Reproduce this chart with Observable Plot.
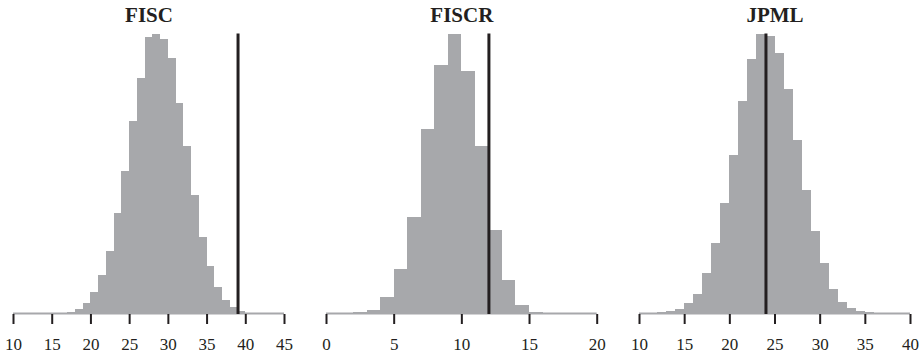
<!DOCTYPE html>
<html><head><meta charset="utf-8">
<script src="https://cdn.jsdelivr.net/npm/d3@7"></script>
<script src="https://cdn.jsdelivr.net/npm/@observablehq/plot@0.6"></script>
<style>
body{margin:0;background:#fff;}
#wrap{display:flex;width:924px;height:357px;}
#wrap svg{display:block;}
</style></head><body><div id="wrap"></div>
<script>
const titles = ["FISC", "FISCR", "JPML"];
// bin starts (each bin is 1 unit wide)
const fiscStart = 10;
const fiscCounts = [1,1,1,1,1,2,3,6,16,32,65,117,188,301,428,576,704,828,838,823,766,631,502,356,229,143,80,41,20,10,4,3,2,1,1];
const fiscrStart = 0;
const fiscrCounts = [1,2,5,13,50,133,290,553,743,838,725,502,250,101,27,6,2,1,1,1];
const jpmlStart = 10;
const jpmlCounts = [1,2,5,8,15,32,61,122,211,331,474,636,762,838,831,781,672,520,371,247,152,76,37,18,9,5,3,2,1,1];
const fiscTicks = [10,15,20,25,30,35,40,45];
const fiscrTicks = [0,5,10,15,20];
const jpmlTicks = [10,15,20,25,30,35,40];
const observed = [39, 12, 24];
const domains = [[10,45],[0,20],[10,40]];

const panels = [
  {title: titles[0], start: fiscStart, counts: fiscCounts, ticks: fiscTicks, obs: observed[0], domain: domains[0], width: 313, mr: 29},
  {title: titles[1], start: fiscrStart, counts: fiscrCounts, ticks: fiscrTicks, obs: observed[1], domain: domains[1], width: 313, mr: 29.3},
  {title: titles[2], start: jpmlStart, counts: jpmlCounts, ticks: jpmlTicks, obs: observed[2], domain: domains[2], width: 298, mr: 14}
];

function panel(p) {
  const bins = p.counts.map((c, i) => ({x1: p.start + i, x2: p.start + i + 1, y: c}));
  return Plot.plot({
    width: p.width, height: 357,
    marginLeft: 13, marginRight: p.mr, marginTop: 33.5, marginBottom: 43,
    x: {domain: p.domain},
    y: {domain: [0, 838], axis: null},
    style: {fontFamily: "'Liberation Serif', 'Times New Roman', serif", fontSize: "17px", color: "#231f20", background: "white"},
    marks: [
      Plot.rectY(bins, {x1: "x1", x2: "x2", y: "y", fill: "#a7a8ab", shapeRendering: "crispEdges"}),
      Plot.ruleY([0], {stroke: "#a7a8ab", strokeWidth: 2, dy: -1}),
      Plot.ruleX([p.obs], {stroke: "#231f20", strokeWidth: 3}),
      Plot.axisX({ticks: p.ticks, tickSize: 10, tickPadding: 13.9, strokeWidth: 2, fontSize: 17, label: null, tickFormat: d => String(d)}),
      Plot.text([p.title], {frameAnchor: "top", lineAnchor: "bottom", dy: -12.5, fontWeight: "bold", fontSize: 21, fill: "#231f20"})
    ]
  });
}
const wrap = document.getElementById("wrap");
panels.forEach(p => wrap.appendChild(panel(p)));
</script></body></html>
